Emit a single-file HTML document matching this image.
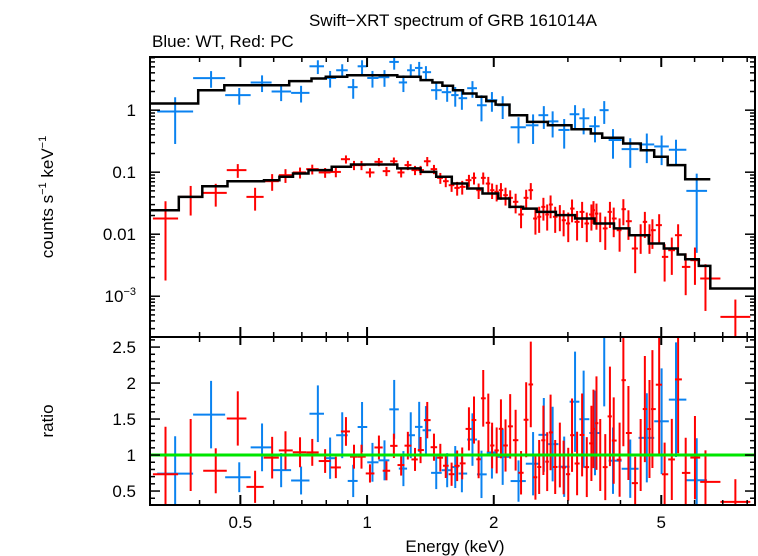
<!DOCTYPE html>
<html><head><meta charset="utf-8"><style>
body{margin:0;background:#fff;}
svg{display:block;font-family:"Liberation Sans",sans-serif;}
</style></head><body>
<svg id="c" width="758" height="556" viewBox="0 0 758 556">
<text x="453" y="26" font-size="17" text-anchor="middle">Swift−XRT spectrum of GRB 161014A</text>
<text x="152" y="47" font-size="17">Blue: WT, Red: PC</text>
<text transform="translate(53,197) rotate(-90)" font-size="17" text-anchor="middle">counts s<tspan font-size="11" dy="-7">−1</tspan><tspan dy="7"> keV</tspan><tspan font-size="11" dy="-7">−1</tspan></text>
<text transform="translate(53,421) rotate(-90)" font-size="17" text-anchor="middle">ratio</text>
<text x="455" y="552" font-size="17" text-anchor="middle">Energy (keV)</text>
<g id="g"></g>
</svg>
<script>
const blueE=[0.35,0.426,0.497,0.563,0.625,0.697,0.764,0.817,0.873,0.927,0.973,1.03,1.10,1.16,1.22,1.27,1.33,1.38,1.46,1.55,1.62,1.68,1.78,1.87,1.98,2.10,2.29,2.48,2.63,2.76,2.94,3.12,3.27,3.48,3.66,3.84,4.22,4.62,5.01,5.42,6.07];
const blueV=[0.95,3.28,1.75,2.8,2.0,1.9,5.1,3.3,4.4,2.35,5.1,3.3,3.4,6.0,2.8,4.4,4.8,4.1,2.1,1.95,1.75,1.56,2.26,1.2,1.45,1.2,0.53,0.57,0.83,0.66,0.48,0.86,0.74,0.55,1.0,0.33,0.235,0.28,0.26,0.23,0.05];
const blueErr=[0.7,0.3,0.3,0.3,0.3,0.3,0.25,0.3,0.25,0.35,0.25,0.3,0.3,0.25,0.3,0.25,0.25,0.25,0.3,0.3,0.35,0.35,0.3,0.45,0.35,0.4,0.45,0.5,0.4,0.45,0.5,0.4,0.45,0.45,0.4,0.5,0.5,0.5,0.5,0.45,0.9];
const redE=[0.332,0.381,0.437,0.493,0.542,0.595,0.640,0.693,0.741,0.795,0.843,0.891,0.931,0.970,1.016,1.067,1.112,1.158,1.205,1.25,1.30,1.34,1.39,1.442,1.493,1.538,1.588,1.637,1.683,1.746,1.795,1.841,1.888,1.941,1.982,2.032,2.08,2.133,2.188,2.254,2.322,2.388,2.449,2.512,2.564,2.624,2.679,2.729,2.799,2.871,2.931,3.006,3.069,3.155,3.243,3.327,3.412,3.451,3.508,3.581,3.681,3.776,3.855,3.981,4.064,4.178,4.335,4.467,4.571,4.688,4.764,4.943,5.093,5.297,5.483,5.715,6.012,6.368,7.5];
const redV=[0.0179,0.040,0.0464,0.108,0.040,0.0716,0.0895,0.099,0.112,0.099,0.101,0.162,0.130,0.130,0.099,0.147,0.104,0.150,0.099,0.130,0.108,0.108,0.150,0.112,0.081,0.0716,0.0617,0.0558,0.058,0.0743,0.081,0.0513,0.081,0.0656,0.0513,0.0482,0.0513,0.0426,0.0386,0.0333,0.0208,0.0386,0.0513,0.0179,0.0191,0.0276,0.0208,0.0301,0.0191,0.0203,0.0168,0.0149,0.0259,0.0158,0.0229,0.0149,0.0208,0.0244,0.0215,0.0149,0.0124,0.0229,0.0179,0.0116,0.0253,0.0162,0.00588,0.00964,0.0158,0.00964,0.0116,0.0140,0.00431,0.00552,0.00964,0.00297,0.00381,0.00193,0.000465];
const redErr=[0.9,0.5,0.4,0.25,0.4,0.3,0.25,0.2,0.18,0.18,0.18,0.15,0.17,0.17,0.17,0.15,0.17,0.15,0.17,0.17,0.17,0.17,0.17,0.17,0.2,0.2,0.22,0.25,0.25,0.22,0.22,0.28,0.22,0.28,0.28,0.3,0.3,0.32,0.32,0.35,0.4,0.35,0.3,0.45,0.45,0.4,0.45,0.4,0.45,0.45,0.45,0.5,0.4,0.5,0.45,0.5,0.45,0.4,0.45,0.5,0.55,0.45,0.5,0.55,0.45,0.5,0.6,0.5,0.45,0.5,0.5,0.5,0.6,0.6,0.5,0.65,0.6,0.7,0.9];
const blueModelEdges=[0.305,0.397,0.458,0.653,0.738,0.798,0.897,1.18,1.34,1.43,1.51,1.60,1.69,1.82,1.92,2.02,2.18,2.40,2.69,3.06,3.40,3.62,4.06,4.47,4.81,5.18,5.70,6.54];
const blueModelV=[1.28,2.10,2.53,2.94,3.24,3.45,3.67,3.45,3.05,2.79,2.47,2.10,1.86,1.64,1.40,1.23,0.83,0.648,0.573,0.494,0.421,0.358,0.290,0.226,0.177,0.130,0.077];
const redModelEdges=[0.305,0.357,0.406,0.466,0.569,0.619,0.667,0.726,0.824,0.916,1.18,1.34,1.46,1.59,1.73,1.88,2.05,2.18,2.35,2.53,2.81,3.12,3.47,3.86,4.20,4.67,5.07,5.47,5.70,6.14,6.54,8.34];
const redModelV=[0.0244,0.040,0.0594,0.0716,0.0743,0.0841,0.0953,0.108,0.122,0.133,0.115,0.101,0.0841,0.0656,0.0545,0.0453,0.0376,0.0276,0.0259,0.0229,0.0203,0.0179,0.0149,0.0124,0.00964,0.00708,0.00588,0.00470,0.00395,0.00308,0.00133];
const xTickMajor=[0.5,1,2,5];
const xTickLabels=["0.5","1","2","5"];
const xTickMinor=[0.4,0.6,0.7,0.8,0.9,3,4,6,7,8];
const yTopTicks=[1,0.1,0.01,0.001];
const ratioTicks=[0.5,1,1.5,2,2.5];

const L=150,R=755,T1=57,B1=337,T2=337,B2=505;
const EMIN=0.305,EMAX=8.35;
const sx=e=>L+(Math.log10(e)-Math.log10(EMIN))/(Math.log10(EMAX)-Math.log10(EMIN))*(R-L);
const YMAX=7.2,YMIN=0.00022;
const sy=v=>T1+(Math.log10(YMAX)-Math.log10(v))/(Math.log10(YMAX)-Math.log10(YMIN))*(B1-T1);
const RMIN=0.306,RMAX=2.64;
const sr=r=>B2-(r-RMIN)/(RMAX-RMIN)*(B2-T2);
const g=document.getElementById('g');
const NS='http://www.w3.org/2000/svg';
function mk(tag,attrs,parent){const el=document.createElementNS(NS,tag);for(const k in attrs)el.setAttribute(k,attrs[k]);(parent||g).appendChild(el);return el;}
function ln(x1,y1,x2,y2,col,w,p){return mk('line',{x1,y1,x2,y2,stroke:col,'stroke-width':w},p);}
const clampT=y=>Math.max(T1,Math.min(B1,y));
const clampR=y=>Math.max(T2,Math.min(B2,y));
function modelAt(edges,vals,e){for(let i=0;i<vals.length;i++){if(e>=edges[i]&&e<edges[i+1])return vals[i];}return vals[e<edges[0]?0:vals.length-1];}

function drawModel(edges,vals,name){
  let d='';
  for(let i=0;i<vals.length;i++){
    const x1=sx(edges[i]),x2=sx(edges[i+1]),y=sy(vals[i]);
    d+=(i===0?'M':'L')+x1.toFixed(1)+','+y.toFixed(1)+'L'+x2.toFixed(1)+','+y.toFixed(1);
  }
  const p=mk('path',{d,fill:'none',stroke:'#000','stroke-width':2.5});
  
  
}
function drawSeries(E,V,ERR,edges,mv,col,name){
  const grp=mk('g',{});
  
  
  for(let i=0;i<E.length;i++){
    const lo=i>0?Math.sqrt(E[i-1]*E[i]):E[i]*E[i]/Math.sqrt(E[i]*E[i+1]);
    const hi=i<E.length-1?Math.sqrt(E[i]*E[i+1]):E[i]*E[i]/Math.sqrt(E[i-1]*E[i]);
    const x=sx(E[i]),xa=Math.max(L,sx(lo)),xb=Math.min(R,sx(hi));
    const pt=mk('g',{},grp);
    
    
    const y=sy(V[i]);
    const ylo=V[i]*(1-ERR[i])>0?sy(V[i]*(1-ERR[i])):B1;
    ln(xa,y,xb,y,col,2,pt);
    ln(x,clampT(sy(V[i]*(1+ERR[i]))),x,clampT(ylo),col,2,pt);
    const r=V[i]/modelAt(edges,mv,E[i]);
    const rp=mk('g',{},grp);
    
    
    const yr=sr(r);
    if(yr>=T2&&yr<=B2)ln(xa,yr,xb,yr,col,2,rp);
    ln(x,clampR(sr(r*(1+ERR[i]))),x,clampR(sr(r*(1-ERR[i]))),col,2,rp);
  }
}
drawSeries(blueE,blueV,blueErr,blueModelEdges,blueModelV,'#0a82f0','wt-series');
drawSeries(redE,redV,redErr,redModelEdges,redModelV,'#f00','pc-series');
drawModel(blueModelEdges,blueModelV,'wt-model-line');
drawModel(redModelEdges,redModelV,'pc-model-line');
const gl=ln(L,sr(1),R,sr(1),'#00e600',3);



const f1=mk('rect',{x:L,y:T1,width:R-L,height:B1-T1,fill:'none',stroke:'#000','stroke-width':2});


const f2=mk('rect',{x:L,y:T2,width:R-L,height:B2-T2,fill:'none',stroke:'#000','stroke-width':2});



xTickMajor.forEach((e,i)=>{
  const x=sx(e);
  [[T1,T1+10],[B1-10,B1+8],[B2-10,B2]].forEach(([a,b])=>ln(x,a,x,b,'#000',2));
  const t=mk('text',{x:x,y:528,'font-size':17,'text-anchor':'middle'});
  t.textContent=xTickLabels[i];
  
  
});
xTickMinor.forEach(e=>{const x=sx(e);[[T1,T1+5],[B1-5,B1+5],[B2-5,B2]].forEach(([a,b])=>ln(x,a,x,b,'#000',1.5));});
for(let d=-4;d<=0;d++){for(let m=1;m<=9;m++){const v=m*Math.pow(10,d);if(v<YMIN||v>YMAX)continue;const y=sy(v);const len=m===1?10:5;ln(L,y,L+len,y,'#000',1.5);ln(R-len,y,R,y,'#000',1.5);}}
yTopTicks.forEach(v=>{
  const y=sy(v);
  const t=mk('text',{x:136,y:y+6,'font-size':17,'text-anchor':'end'});
  if(v===0.001){t.innerHTML='10<tspan font-size="11" dy="-7">−3</tspan>';}else t.textContent=String(v);
  
  
});
for(let k=4;k<=26;k++){const r=k/10;const y=sr(r);const len=(k%5===0)?10:5;ln(L,y,L+len,y,'#000',1.5);ln(R-len,y,R,y,'#000',1.5);}
ratioTicks.forEach(r=>{
  const t=mk('text',{x:136,y:sr(r)+6,'font-size':17,'text-anchor':'end'});
  t.textContent=String(r);
  
  
});
</script>
</body></html>
